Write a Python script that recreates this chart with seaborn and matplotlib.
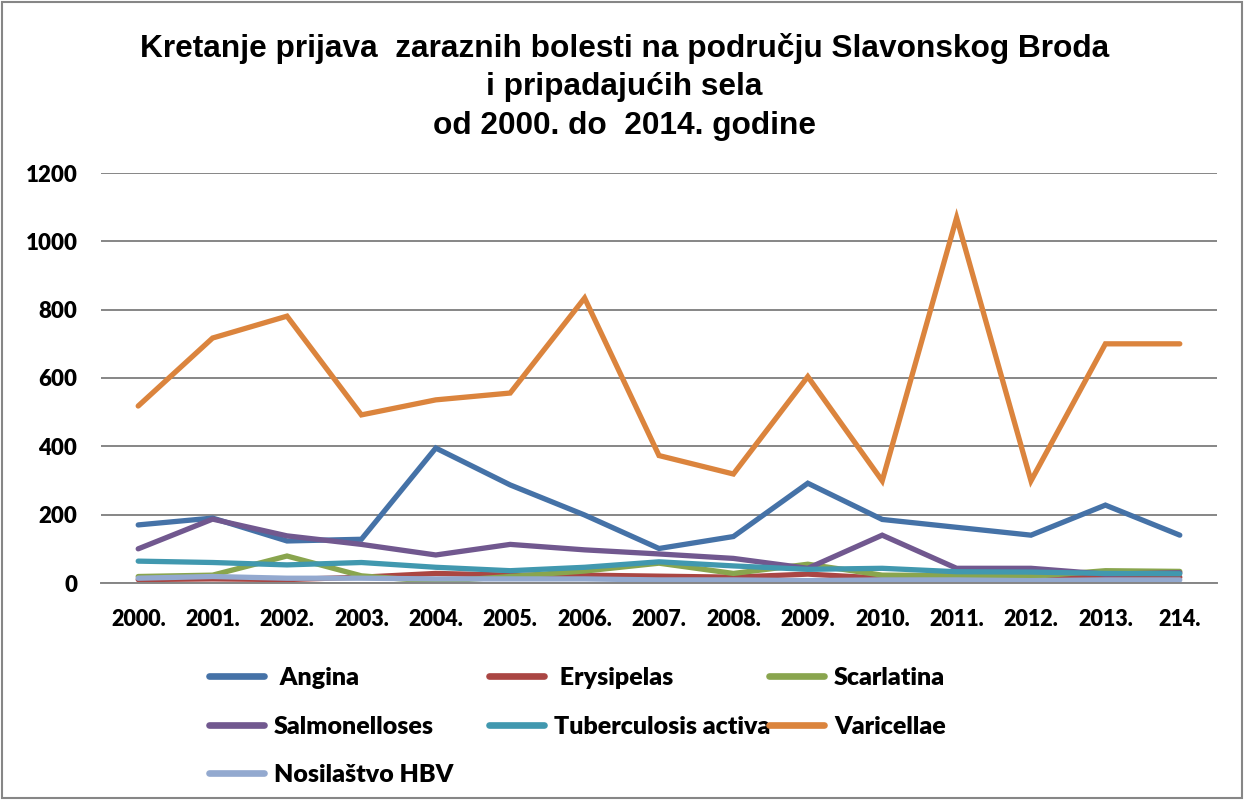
import matplotlib
matplotlib.use("Agg")
import matplotlib.pyplot as plt
import seaborn as sns
import pandas as pd
from matplotlib.patches import Rectangle

years = ["2000.", "2001.", "2002.", "2003.", "2004.", "2005.", "2006.", "2007.",
         "2008.", "2009.", "2010.", "2011.", "2012.", "2013.", "214."]

angina = [170, 190, 123, 128, 395, 287, 199, 101, 136, 292, 186, 163, 140, 228, 140]
erysipelas = [10, 12, 10, 17, 28, 23, 23, 20, 17, 26, 14, 13, 14, 19, 17]
scarlatina = [19, 23, 79, 21, 4, 19, 35, 58, 28, 55, 23, 22, 19, 36, 34]
salmonelloses = [100, 187, 138, 113, 82, 113, 97, 85, 72, 43, 140, 43, 43, 26, 30]
tuberculosis = [64, 60, 53, 60, 46, 36, 46, 62, 50, 40, 43, 33, 32, 28, 27]
varicellae = [518, 717, 781, 492, 536, 556, 834, 373, 319, 604, 299, 1069, 299, 700, 700]
hbv = [14, 19, 14, 14, 12, 12, 12, 9, 9, 7, 9, 9, 7, 9, 9]

series_names = ["Angina", "Erysipelas", "Scarlatina", "Salmonelloses",
                "Tuberculosis activa", "Varicellae", "Nosilaštvo HBV"]
series_values = [angina, erysipelas, scarlatina, salmonelloses,
                 tuberculosis, varicellae, hbv]
colors = ["#4572A7", "#AA4643", "#89A54E", "#71588F", "#4198AF", "#DB843D", "#93A9CF"]

rows = []
for name, vals in zip(series_names, series_values):
    for i, v in enumerate(vals):
        rows.append({"idx": i, "value": v, "disease": name})
df = pd.DataFrame(rows)

sns.set_theme(style="white")
plt.rcParams["font.family"] = ["Lato", "DejaVu Sans"]
plt.rcParams["text.color"] = "black"

fig = plt.figure(figsize=(12.44, 8.0), dpi=100)
ax = fig.add_axes([101 / 1244, 1 - 583 / 800, (1217 - 101) / 1244, (583 - 173) / 800])

sns.lineplot(data=df, x="idx", y="value", hue="disease", hue_order=series_names,
             palette=colors, linewidth=3.8, ax=ax, sort=False, legend=True,
             solid_capstyle="round", solid_joinstyle="miter")

handles, labels = ax.get_legend_handles_labels()
ax.get_legend().remove()

ax.set_xlim(-0.5, 14.5)
ax.set_ylim(0, 1200)
ax.set_yticks(range(0, 1201, 200))
ax.set_xticks(range(len(years)))
ax.set_xticklabels(years)
ax.set_xlabel("")
ax.set_ylabel("")
ax.grid(axis="y", color="#868686", linewidth=1.4)
ax.set_axisbelow(True)
for s in ["top", "right", "left"]:
    ax.spines[s].set_visible(False)
ax.spines["bottom"].set_color("#868686")
ax.spines["bottom"].set_linewidth(1.4)
ax.tick_params(axis="both", length=0)
ax.tick_params(axis="y", pad=17, labelsize=16)
ax.tick_params(axis="x", pad=19, labelsize=15.5)
for t in ax.get_xticklabels() + ax.get_yticklabels():
    t.set_fontweight("heavy")
    t.set_color("black")

fig.text(0.502, 1 - 33 / 800,
         "Kretanje prijava  zaraznih bolesti na području Slavonskog Broda\n"
         "i pripadajućih sela\nod 2000. do  2014. godine",
         ha="center", va="top", fontsize=22.8, fontweight="bold", color="black",
         family=["Liberation Sans", "DejaVu Sans"], linespacing=1.36)

# legend in three columns (row-major like the reference)
hmap = dict(zip(labels, handles))
columns = [["Angina", "Salmonelloses", "Nosilaštvo HBV"],
           ["Erysipelas", "Tuberculosis activa"],
           ["Scarlatina", "Varicellae"]]
col_x = [209, 489, 769]
for cx, col in zip(col_x, columns):
    hs = [hmap[n] for n in col]
    labs = [(" " + n) if n in ("Angina", "Erysipelas") else n for n in col]
    leg = fig.legend(hs, labs, loc="upper left",
                     bbox_to_anchor=(cx / 1244, 1 - 667 / 800),
                     frameon=False, handlelength=2.2, handletextpad=0.4,
                     labelspacing=1.06, borderpad=0, borderaxespad=0,
                     prop={"weight": "heavy", "size": 18})
    for line in leg.get_lines():
        line.set_linewidth(4.8)
        line.set_solid_capstyle("round")
    for t in leg.get_texts():
        t.set_color("black")

fig.add_artist(Rectangle((0.002, 0.002), 0.996, 0.996, transform=fig.transFigure,
                         fill=False, edgecolor="#868686", linewidth=1.5))

fig.savefig("out.png", dpi=100)
